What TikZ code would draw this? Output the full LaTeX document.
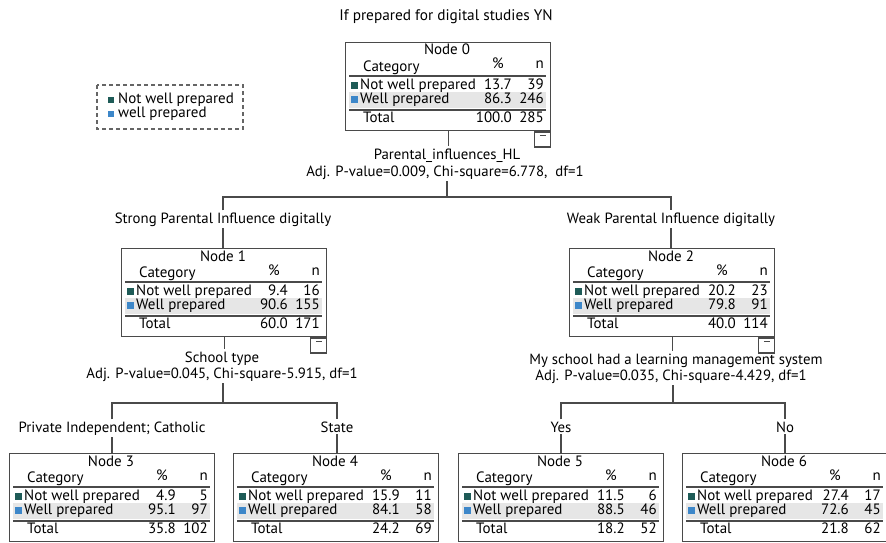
\documentclass[tikz,border=0pt]{standalone}
\usepackage{fontspec}
\setmainfont{PT Sans}
\usetikzlibrary{positioning}
\definecolor{notwell}{HTML}{1E5B57}
\definecolor{wellprep}{HTML}{3D87C9}
\definecolor{rowgrey}{HTML}{E6E6E6}
\definecolor{edgegrey}{HTML}{4A4A4A}
\tikzset{
  box/.style={draw=edgegrey, line width=1.4pt, rectangle, anchor=north west,
    minimum width=205pt, minimum height=88pt, inner sep=0pt},
  collapse/.style={draw=edgegrey, line width=1.3pt, rectangle, anchor=north east,
    minimum width=16pt, minimum height=15pt, inner sep=0pt},
  rule/.style={draw=edgegrey, line width=1.6pt},
  link/.style={draw=edgegrey, line width=1.4pt},
  cell/.style={font=\fontsize{15}{16}\selectfont, inner sep=0pt},
  lbl/.style={font=\fontsize{14.8}{16}\selectfont, inner sep=2pt, anchor=base}
}
% #1 left, #2 top, #3 node number, #4-#7 the two rows, #8-#9 total
\newcommand{\treebox}[9]{%
  \node[box] (n#3) at (#1,#2) {};
  \fill[rowgrey] (#1+4,#2+50) rectangle (#1+201,#2+66);
  \node[cell,anchor=base] at (#1+102,#2+13) {Node #3};
  \node[cell,anchor=base west] at (#1+18,#2+29) {Category};
  \node[cell,anchor=base] at (#1+153,#2+27) {\%};
  \node[cell,anchor=base east] at (#1+199,#2+27) {n};
  \draw[rule] (#1+4,#2+34) -- (#1+201,#2+34);
  \fill[notwell] (#1+6,#2+40) rectangle ++(7,7);
  \node[cell,anchor=base west] at (#1+15,#2+47) {Not well prepared};
  \node[cell,anchor=base east] at (#1+167,#2+47) {#4};
  \node[cell,anchor=base east] at (#1+199,#2+47) {#5};
  \fill[wellprep] (#1+6,#2+54) rectangle ++(7,7);
  \node[cell,anchor=base west] at (#1+15,#2+61) {Well prepared};
  \node[cell,anchor=base east] at (#1+167,#2+61) {#6};
  \node[cell,anchor=base east] at (#1+199,#2+61) {#7};
  \draw[rule] (#1+4,#2+68) -- (#1+201,#2+68);
  \node[cell,anchor=base west] at (#1+18,#2+80) {Total};
  \node[cell,anchor=base east] at (#1+167,#2+80) {#8};
  \node[cell,anchor=base east] at (#1+199,#2+80) {#9};
}
\newcommand{\collapsebox}[1]{%
  \node[collapse] (m#1) at (n#1.south east) {};
  \draw[edgegrey, line width=1pt] ([xshift=-3pt,yshift=-4pt]m#1.north) -- ++(6pt,0);
}

\begin{document}
\begin{tikzpicture}[x=1pt,y=-1pt]
\useasboundingbox (0,0) rectangle (886,543);
\clip (0,0) rectangle (886,543);

% legend
\draw[edgegrey!85, line width=1.8pt, dash pattern=on 4pt off 3pt] (97,85) rectangle (243,129);
\fill[notwell] (108,97) rectangle ++(6,6);
\node[cell,anchor=base west] (keynot) at (118,103) {Not well prepared};
\fill[wellprep] (108,111) rectangle ++(6,6);
\node[cell,anchor=base west] (keywell) at (118,117) {well prepared};

\node[lbl, font=\fontsize{15.3}{17}\selectfont] (title) at (446,21) {If prepared for digital studies YN};

% level 0
\treebox{345}{42}{0}{13.7}{39}{86.3}{246}{100.0}{285}
\collapsebox{0}
\node[lbl] (v0a) at (447,159) {Parental\_influences\_HL};
\node[lbl] (v0b) at (445,176) {Adj. P-value=0.009, Chi-square=6.778,\ \ df=1};
\coordinate (j0) at (447,197);
\draw[link] (n0.south) -- (n0.south |- v0a.north);
\draw[link] (v0b.south -| j0) -- (j0);

% level 1
\node[lbl] (b1) at (223,223) {Strong Parental Influence digitally};
\node[lbl] (b2) at (671,223) {Weak Parental Influence digitally};
\draw[link] (b1.north) |- (j0) -| (b2.north);
\treebox{121}{248}{1}{9.4}{16}{90.6}{155}{60.0}{171}
\treebox{569}{248}{2}{20.2}{23}{79.8}{91}{40.0}{114}
\collapsebox{1}
\collapsebox{2}
\draw[link] (b1.south) -- (b1.south |- n1.north);
\draw[link] (b2.south) -- (b2.south |- n2.north);

\node[lbl] (v1a) at (222,362) {School type};
\node[lbl] (v1b) at (222,378) {Adj. P-value=0.045, Chi-square-5.915, df=1};
\node[lbl] (v2a) at (676,364) {My school had a learning management system};
\node[lbl] (v2b) at (671,380) {Adj. P-value=0.035, Chi-square-4.429, df=1};
\coordinate (j1) at (223,403);
\coordinate (j2) at (673,403);
\draw[link] (n1.south) -- (n1.south |- v1a.north);
\draw[link] (n2.south) -- (n2.south |- v2a.north);
\draw[link] (v1b.south -| j1) -- (j1);
\draw[link] (v2b.south -| j2) -- (j2);

% level 2
\node[lbl] (b3) at (112,432) {Private Independent; Catholic};
\node[lbl] (b4) at (337,432) {State};
\node[lbl] (b5) at (561,432) {Yes};
\node[lbl] (b6) at (785,432) {No};
\draw[link] (b3.north) |- (j1) -| (b4.north);
\draw[link] (b5.north) |- (j2) -| (b6.north);
\treebox{9}{453}{3}{4.9}{5}{95.1}{97}{35.8}{102}
\treebox{233}{453}{4}{15.9}{11}{84.1}{58}{24.2}{69}
\treebox{458}{453}{5}{11.5}{6}{88.5}{46}{18.2}{52}
\treebox{682}{453}{6}{27.4}{17}{72.6}{45}{21.8}{62}
\draw[link] (b3.south) -- (b3.south |- n3.north);
\draw[link] (b4.south) -- (b4.south |- n4.north);
\draw[link] (b5.south) -- (b5.south |- n5.north);
\draw[link] (b6.south) -- (b6.south |- n6.north);
\end{tikzpicture}
\end{document}
